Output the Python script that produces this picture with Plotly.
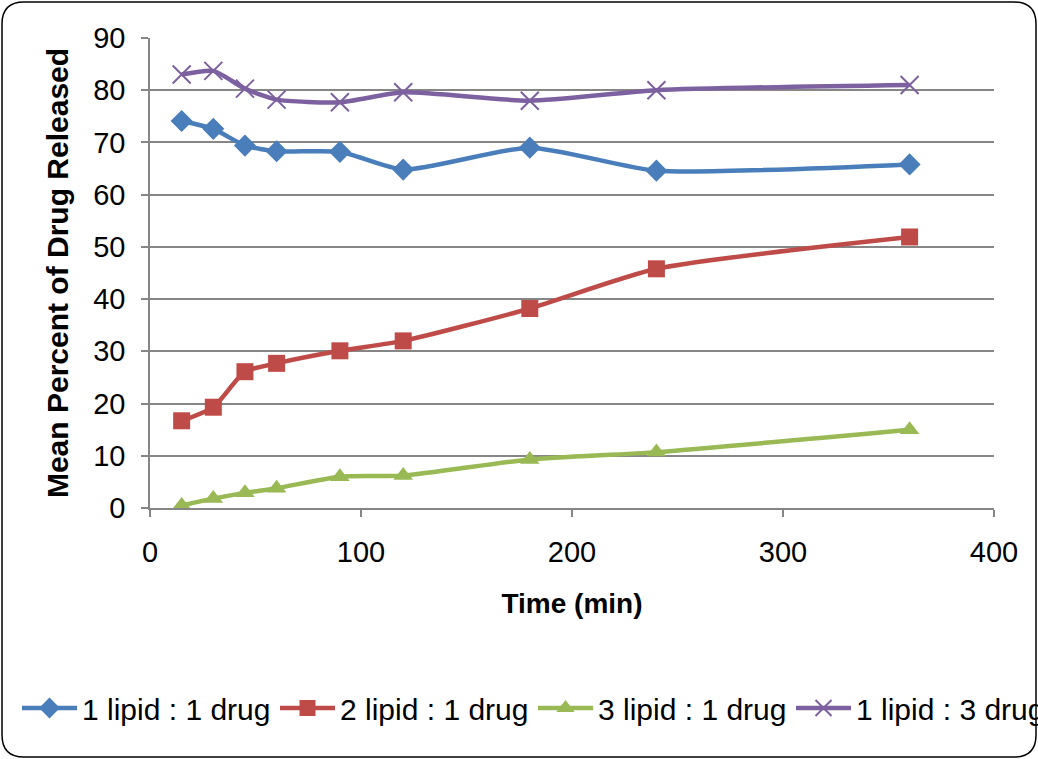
import plotly.graph_objects as go

time_min = [15, 30, 45, 60, 90, 120, 180, 240, 360]
s1_name = "1 lipid : 1 drug"
s1 = [74.1, 72.6, 69.4, 68.3, 68.2, 64.8, 69.0, 64.6, 65.8]
s2_name = "2 lipid : 1 drug"
s2 = [16.7, 19.3, 26.1, 27.7, 30.1, 32.0, 38.2, 45.8, 51.9]
s3_name = "3 lipid : 1 drug"
s3 = [0.5, 1.8, 2.9, 3.8, 6.0, 6.2, 9.3, 10.7, 15.0]
s4_name = "1 lipid : 3 drug"
s4 = [83.0, 83.7, 80.3, 78.2, 77.7, 79.6, 78.0, 80.0, 81.0]

colors = ["#4A7EBB", "#BE4B48", "#98B954", "#7D60A0"]
symbols = ["diamond", "square", "triangle-up", "x-thin"]
FONT = "Liberation Sans, Arial, sans-serif"

L, R, T, B = 150, 44, 38, 251
W, H = 1038, 759
pw, ph = W - L - R, H - T - B

def px(x):
    return (x - L) / pw

def py(y):
    return (H - B - y) / ph

legend_ids = ["legend", "legend2", "legend3", "legend4"]

fig = go.Figure()
for name, vals, c, sym, lg in zip([s1_name, s2_name, s3_name, s4_name],
                                  [s1, s2, s3, s4], colors, symbols, legend_ids):
    marker = dict(symbol=sym, size=17, color=c)
    if sym == "x-thin":
        marker = dict(symbol=sym, size=18, color=c, line=dict(color=c, width=2))
    fig.add_trace(go.Scatter(
        x=time_min, y=vals, name=name, mode="lines+markers", legend=lg,
        line=dict(color=c, width=4.5, shape="spline", smoothing=0.6),
        marker=marker,
    ))

x0, x1, y0, y1 = px(2), px(1036), py(757), py(2)
rx, ry = 22 / pw, 22 / ph
path = (f"M {x0+rx},{y1} L {x1-rx},{y1} Q {x1},{y1} {x1},{y1-ry} "
        f"L {x1},{y0+ry} Q {x1},{y0} {x1-rx},{y0} L {x0+rx},{y0} "
        f"Q {x0},{y0} {x0},{y0+ry} L {x0},{y1-ry} Q {x0},{y1} {x0+rx},{y1} Z")

legend_layout = {}
for k, lg in enumerate(legend_ids):
    legend_layout[lg] = dict(
        orientation="h", x=px(17 + 258 * k), y=py(708),
        xanchor="left", yanchor="middle",
        font=dict(size=30), itemwidth=55, bgcolor="rgba(0,0,0,0)",
    )

fig.update_layout(
    width=W, height=H,
    margin=dict(l=L, r=R, t=T, b=B, autoexpand=False),
    paper_bgcolor="white", plot_bgcolor="white",
    font=dict(family=FONT, size=29, color="black"),
    showlegend=True,
    shapes=[dict(type="path", path=path, xref="paper", yref="paper",
                 line=dict(color="black", width=1.5), layer="below")],
    **legend_layout,
)
fig.update_xaxes(
    range=[0, 400], dtick=100, tick0=0,
    showgrid=False, showline=True, linecolor="#868686", linewidth=1.5,
    ticks="outside", ticklen=7, tickcolor="#868686", tickwidth=1.5,
    tickfont=dict(size=29), zeroline=False, ticklabelstandoff=10,
    title=dict(text="<b>Time (min)</b>", font=dict(size=28), standoff=27),
)
fig.update_yaxes(
    range=[0, 90], dtick=10, tick0=0,
    showgrid=True, gridcolor="#868686", gridwidth=1.5,
    showline=True, linecolor="#868686", linewidth=1.5,
    ticks="outside", ticklen=7, tickcolor="#868686", tickwidth=1.5,
    tickfont=dict(size=29), zeroline=False, ticklabelstandoff=10,
    title=dict(text="<b>Mean Percent of Drug Released</b>", font=dict(size=30), standoff=16),
)

fig.write_html("out.html")
